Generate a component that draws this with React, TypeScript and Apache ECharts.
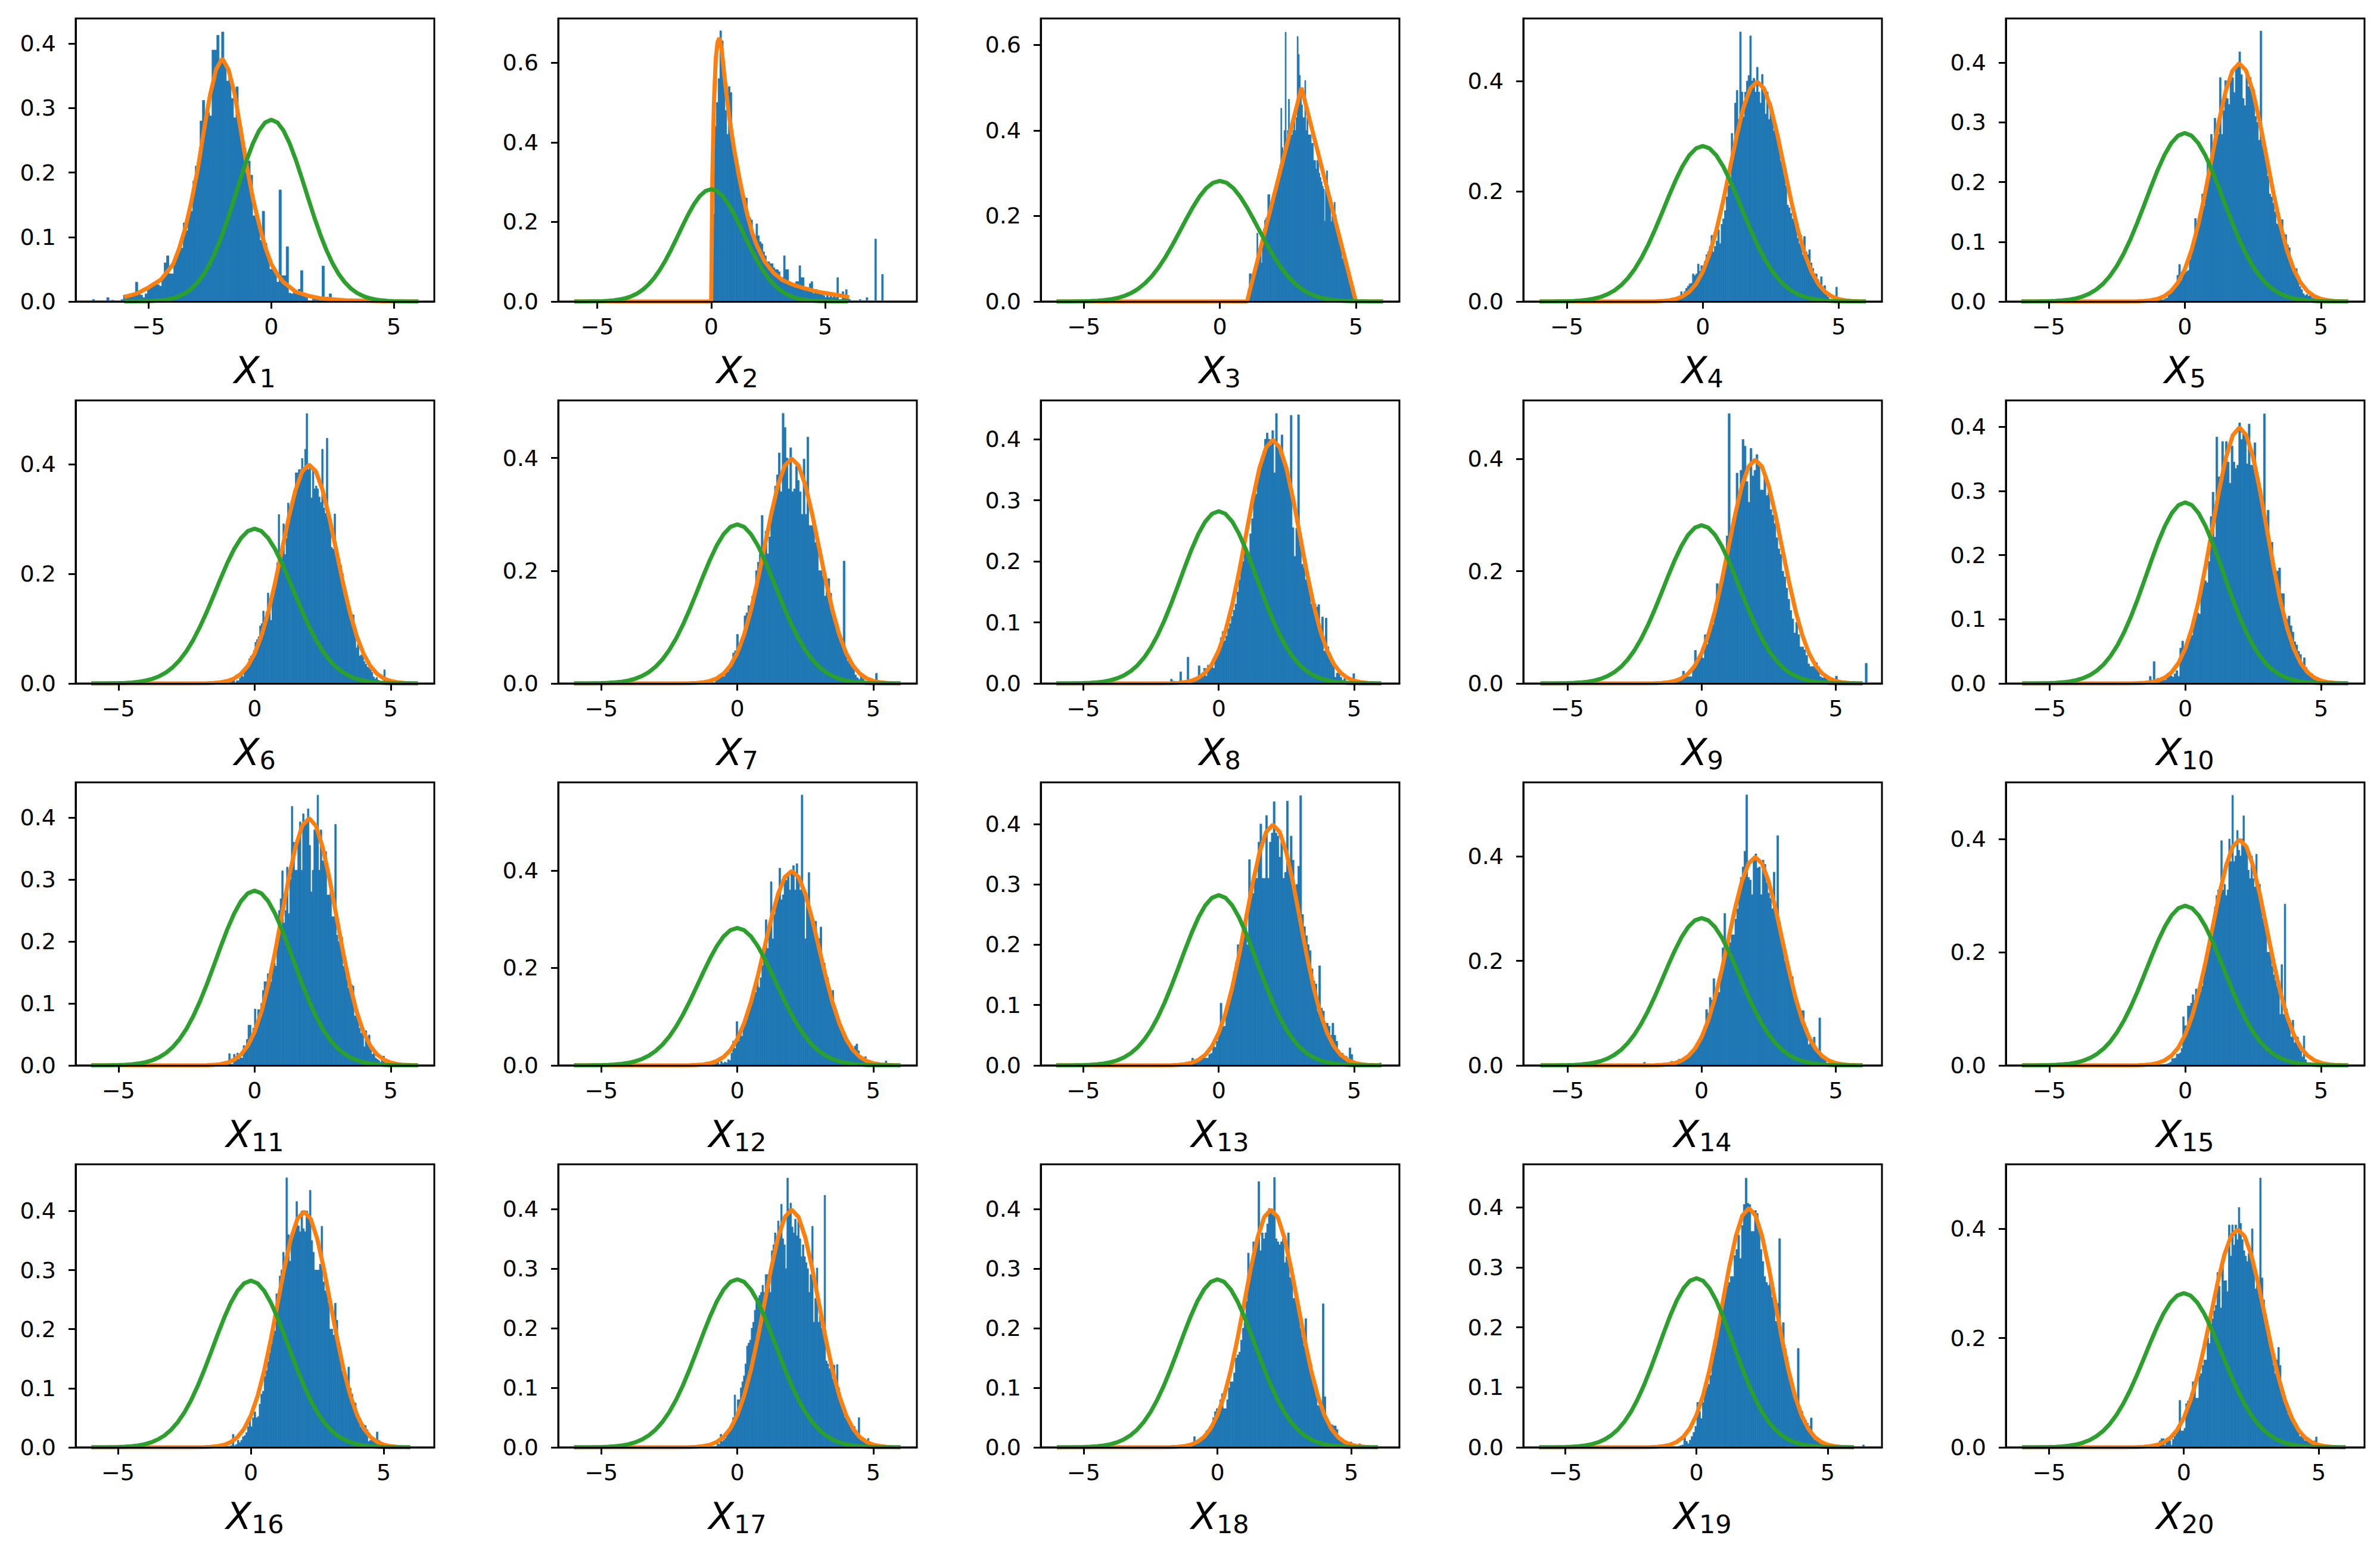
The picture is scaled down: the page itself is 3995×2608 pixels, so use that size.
import { useEffect, useRef } from "react";
import * as echarts from "echarts";

// histogram heights, 100 bins per panel
const hist1 = [
  0.003, 0, 0, 0, 0, 0, 0.006, 0, 0.002, 0,
  0, 0, 0.003, 0.01, 0.008, 0.009, 0.008, 0.012, 0.03, 0.012,
  0.01, 0.006, 0.012, 0.018, 0.024, 0.028, 0.028, 0.026, 0.024, 0.037,
  0.06, 0.071, 0.043, 0.043, 0.065, 0.07, 0.078, 0.083, 0.122, 0.11,
  0.137, 0.14, 0.187, 0.21, 0.21, 0.28, 0.312, 0.288, 0.293, 0.288,
  0.39, 0.39, 0.413, 0.37, 0.418, 0.37, 0.342, 0.355, 0.315, 0.285,
  0.333, 0.272, 0.25, 0.225, 0.2, 0.218, 0.196, 0.133, 0.13, 0.125,
  0.095, 0.14, 0.09, 0.068, 0.05, 0.05, 0.048, 0.03, 0.173, 0.04,
  0.04, 0.085, 0.013, 0.012, 0.016, 0.012, 0.019, 0.048, 0.011, 0.006,
  0, 0, 0.004, 0.004, 0.004, 0, 0.055, 0.004, 0, 0.012,
];
const hist2 = [
  0.03, 0.22, 0.44, 0.5, 0.56, 0.68, 0.655, 0.585, 0.48, 0.42,
  0.54, 0.525, 0.42, 0.39, 0.35, 0.335, 0.32, 0.29, 0.265, 0.23,
  0.26, 0.22, 0.21, 0.205, 0.155, 0.15, 0.195, 0.165, 0.15, 0.145,
  0.125, 0.115, 0.1, 0.1, 0.095, 0.095, 0.085, 0.08, 0.08, 0.075,
  0.06, 0.06, 0.115, 0.08, 0.08, 0.05, 0.045, 0.04, 0.035, 0.05,
  0.05, 0.09, 0.06, 0.06, 0.035, 0.03, 0.035, 0.045, 0.05, 0.02,
  0.03, 0.03, 0.02, 0.02, 0.02, 0.015, 0.01, 0.025, 0.01, 0.015,
  0.01, 0.02, 0.01, 0.06, 0.005, 0.005, 0.025, 0.01, 0.03, 0.01,
  0.005, 0, 0, 0, 0, 0, 0.005, 0, 0.002, 0,
  0.01, 0, 0, 0, 0, 0.157, 0, 0, 0, 0.068,
];
const hist3 = [
  0, 0.03, 0.065, 0.065, 0.04, 0.045, 0.05, 0.07, 0.09, 0.16,
  0.12, 0.125, 0.13, 0.09, 0.14, 0.17, 0.19, 0.195, 0.19, 0.25,
  0.25, 0.21, 0.215, 0.22, 0.25, 0.25, 0.27, 0.28, 0.28, 0.31,
  0.32, 0.452, 0.36, 0.35, 0.4, 0.63, 0.35, 0.4, 0.473, 0.39,
  0.39, 0.39, 0.4, 0.43, 0.4, 0.43, 0.62, 0.578, 0.529, 0.5,
  0.46, 0.43, 0.43, 0.517, 0.4, 0.43, 0.39, 0.39, 0.39, 0.37,
  0.37, 0.33, 0.33, 0.31, 0.33, 0.333, 0.3, 0.29, 0.28, 0.27,
  0.263, 0.188, 0.27, 0.306, 0.27, 0.24, 0.22, 0.187, 0.2, 0.21,
  0.232, 0.203, 0.17, 0.16, 0.15, 0.14, 0.13, 0.1, 0.11, 0.09,
  0.09, 0.08, 0.07, 0.06, 0.04, 0.035, 0.03, 0.02, 0.01, 0.003,
];
const hist4 = [
  0.002, 0, 0.002, 0.001, 0.003, 0.003, 0.004, 0.018, 0.01, 0.018,
  0.024, 0.028, 0.032, 0.033, 0.05, 0.047, 0.05, 0.068, 0.055, 0.065,
  0.064, 0.073, 0.085, 0.09, 0.1, 0.12, 0.09, 0.1, 0.11, 0.13,
  0.105, 0.14, 0.15, 0.165, 0.19, 0.21, 0.22, 0.305, 0.285, 0.36,
  0.383, 0.33, 0.489, 0.38, 0.335, 0.38, 0.4, 0.41, 0.482, 0.4,
  0.405, 0.38, 0.425, 0.38, 0.36, 0.412, 0.385, 0.34, 0.38, 0.33,
  0.36, 0.33, 0.31, 0.31, 0.29, 0.29, 0.255, 0.25, 0.23, 0.21,
  0.175, 0.17, 0.16, 0.15, 0.145, 0.14, 0.115, 0.105, 0.12, 0.085,
  0.118, 0.09, 0.085, 0.094, 0.07, 0.06, 0.05, 0.05, 0.04, 0.03,
  0.045, 0.02, 0.029, 0.012, 0.008, 0.004, 0.004, 0.003, 0, 0.026,
];
const hist5 = [
  0.003, 0.001, 0.003, 0.002, 0.003, 0.003, 0.003, 0.005, 0.006, 0.012,
  0.015, 0.022, 0.024, 0.03, 0.044, 0.062, 0.035, 0.05, 0.047, 0.05,
  0.052, 0.07, 0.09, 0.1, 0.139, 0.12, 0.125, 0.15, 0.18, 0.16,
  0.19, 0.235, 0.22, 0.28, 0.25, 0.307, 0.27, 0.28, 0.375, 0.28,
  0.32, 0.37, 0.34, 0.33, 0.37, 0.375, 0.35, 0.39, 0.4, 0.418,
  0.38, 0.34, 0.328, 0.385, 0.36, 0.375, 0.36, 0.355, 0.31, 0.3,
  0.27, 0.453, 0.26, 0.25, 0.24, 0.21, 0.18, 0.175, 0.165, 0.15,
  0.13, 0.128, 0.13, 0.137, 0.105, 0.112, 0.095, 0.09, 0.07, 0.06,
  0.055, 0.055, 0.035, 0.025, 0.02, 0.013, 0.01, 0.012, 0.009, 0.011,
  0.006, 0.005, 0.004, 0.003, 0.002, 0.003, 0.002, 0.001, 0, 0.002,
];
const hist6 = [
  0.002, 0.004, 0.005, 0.001, 0.005, 0.005, 0.01, 0.02, 0.012, 0.025,
  0.03, 0.032, 0.045, 0.05, 0.05, 0.06, 0.075, 0.08, 0.085, 0.105,
  0.109, 0.132, 0.115, 0.13, 0.165, 0.15, 0.115, 0.165, 0.18, 0.2,
  0.22, 0.308, 0.22, 0.235, 0.291, 0.235, 0.265, 0.329, 0.3, 0.32,
  0.33, 0.35, 0.384, 0.384, 0.39, 0.39, 0.41, 0.385, 0.427, 0.492,
  0.39, 0.4, 0.338, 0.39, 0.355, 0.36, 0.355, 0.34, 0.33, 0.427,
  0.32, 0.31, 0.447, 0.3, 0.28, 0.248, 0.245, 0.309, 0.24, 0.215,
  0.2, 0.215, 0.2, 0.16, 0.16, 0.15, 0.14, 0.125, 0.125, 0.125,
  0.09, 0.065, 0.071, 0.05, 0.052, 0.064, 0.04, 0.035, 0.03, 0.028,
  0.025, 0.02, 0.012, 0.008, 0.011, 0.006, 0.004, 0.003, 0.004, 0.025,
];
const hist7 = [
  0.002, 0, 0, 0, 0, 0, 0, 0, 0, 0,
  0, 0.001, 0, 0, 0, 0.005, 0.007, 0.012, 0.018, 0.012,
  0.02, 0.02, 0.03, 0.04, 0.054, 0.058, 0.087, 0.07, 0.065, 0.08,
  0.12, 0.125, 0.138, 0.13, 0.155, 0.165, 0.2, 0.215, 0.23, 0.298,
  0.225, 0.27, 0.23, 0.26, 0.3, 0.32, 0.35, 0.37, 0.409, 0.34,
  0.479, 0.454, 0.4, 0.345, 0.418, 0.34, 0.345, 0.385, 0.36, 0.34,
  0.3, 0.398, 0.3, 0.437, 0.28, 0.28, 0.285, 0.25, 0.255, 0.2,
  0.2, 0.19, 0.155, 0.17, 0.186, 0.16, 0.125, 0.12, 0.11, 0.09,
  0.085, 0.08, 0.217, 0.05, 0.04, 0.035, 0.035, 0.028, 0.015, 0.01,
  0.007, 0.015, 0.008, 0.004, 0.002, 0.002, 0.002, 0.001, 0, 0.018,
];
const hist8 = [
  0.007, 0.004, 0, 0, 0, 0.019, 0, 0, 0.002, 0.043,
  0, 0.002, 0.002, 0.003, 0.006, 0.029, 0.012, 0.014, 0.025, 0.012,
  0.03, 0.026, 0.03, 0.025, 0.045, 0.05, 0.06, 0.075, 0.085, 0.07,
  0.078, 0.09, 0.098, 0.11, 0.12, 0.13, 0.15, 0.17, 0.19, 0.2,
  0.215, 0.22, 0.2, 0.245, 0.27, 0.31, 0.31, 0.34, 0.355, 0.37,
  0.38, 0.4, 0.41, 0.4, 0.39, 0.414, 0.345, 0.442, 0.385, 0.375,
  0.407, 0.36, 0.36, 0.35, 0.34, 0.439, 0.255, 0.208, 0.254, 0.44,
  0.225, 0.195, 0.19, 0.17, 0.165, 0.15, 0.13, 0.129, 0.13, 0.125,
  0.129, 0.09, 0.109, 0.053, 0.107, 0.06, 0.05, 0.04, 0.03, 0.01,
  0.017, 0.019, 0.01, 0.005, 0.008, 0.004, 0.003, 0.002, 0, 0.016,
];
const hist9 = [
  0.003, 0.002, 0.002, 0.001, 0.004, 0.006, 0.005, 0.022, 0.015, 0.012,
  0.012, 0.012, 0.025, 0.059, 0.045, 0.047, 0.05, 0.045, 0.087, 0.07,
  0.09, 0.1, 0.105, 0.14, 0.178, 0.16, 0.17, 0.2, 0.215, 0.263,
  0.481, 0.27, 0.293, 0.29, 0.375, 0.33, 0.38, 0.435, 0.423, 0.36,
  0.323, 0.419, 0.37, 0.38, 0.408, 0.39, 0.345, 0.345, 0.37, 0.335,
  0.34, 0.31, 0.3, 0.285, 0.26, 0.24, 0.23, 0.2, 0.19, 0.17,
  0.15, 0.13, 0.115, 0.09, 0.109, 0.087, 0.065, 0.065, 0.06, 0.05,
  0.035, 0.03, 0.03, 0.03, 0.037, 0.03, 0.012, 0.01, 0.01, 0.008,
  0.005, 0.004, 0.008, 0.002, 0.013, 0, 0.002, 0.001, 0, 0,
  0, 0, 0, 0, 0, 0, 0, 0, 0, 0.036,
];
const hist10 = [
  0.011, 0, 0.034, 0, 0.008, 0.004, 0.004, 0.005, 0.005, 0.01,
  0.012, 0.012, 0.01, 0.015, 0.02, 0.011, 0.055, 0.066, 0.048, 0.06,
  0.065, 0.07, 0.075, 0.1, 0.105, 0.11, 0.108, 0.14, 0.155, 0.16,
  0.157, 0.19, 0.26, 0.298, 0.228, 0.384, 0.322, 0.322, 0.377, 0.35,
  0.377, 0.345, 0.312, 0.37, 0.345, 0.335, 0.34, 0.406, 0.38, 0.39,
  0.39, 0.342, 0.404, 0.34, 0.34, 0.375, 0.33, 0.3, 0.285, 0.27,
  0.42, 0.245, 0.27, 0.22, 0.22, 0.18, 0.155, 0.175, 0.18, 0.14,
  0.14, 0.1, 0.1, 0.105, 0.09, 0.08, 0.065, 0.06, 0.05, 0.045,
  0.03, 0.04, 0.025, 0.02, 0.012, 0.015, 0.01, 0.008, 0.006, 0.004,
  0.003, 0.002, 0.001, 0.001, 0.001, 0.002, 0.001, 0.001, 0, 0.003,
];
const hist11 = [
  0.004, 0.002, 0.019, 0.002, 0.002, 0.018, 0.008, 0.02, 0.01, 0.012,
  0.012, 0.032, 0.03, 0.042, 0.065, 0.065, 0.04, 0.06, 0.091, 0.06,
  0.09, 0.09, 0.1, 0.121, 0.135, 0.135, 0.148, 0.135, 0.135, 0.16,
  0.165, 0.16, 0.2, 0.25, 0.269, 0.314, 0.23, 0.25, 0.32, 0.245,
  0.3, 0.418, 0.36, 0.315, 0.315, 0.37, 0.393, 0.315, 0.406, 0.395,
  0.39, 0.414, 0.355, 0.28, 0.315, 0.38, 0.38, 0.436, 0.315, 0.38,
  0.33, 0.33, 0.345, 0.275, 0.275, 0.28, 0.24, 0.24, 0.389, 0.21,
  0.2, 0.2, 0.207, 0.16, 0.16, 0.14, 0.125, 0.128, 0.13, 0.128,
  0.08, 0.08, 0.075, 0.06, 0.052, 0.056, 0.03, 0.056, 0.04, 0.049,
  0.025, 0.018, 0.02, 0.012, 0.01, 0.008, 0.005, 0.01, 0.015, 0.004,
];
const hist12 = [
  0.004, 0.006, 0.002, 0.008, 0.004, 0.007, 0.005, 0.012, 0.01, 0.025,
  0.05, 0.035, 0.09, 0.05, 0.065, 0.06, 0.08, 0.09, 0.095, 0.12,
  0.125, 0.13, 0.145, 0.15, 0.181, 0.16, 0.18, 0.205, 0.24, 0.299,
  0.24, 0.28, 0.377, 0.26, 0.31, 0.33, 0.34, 0.405, 0.34, 0.35,
  0.39, 0.38, 0.39, 0.36, 0.4, 0.41, 0.36, 0.414, 0.38, 0.36,
  0.555, 0.36, 0.26, 0.33, 0.396, 0.3, 0.3, 0.28, 0.296, 0.25,
  0.26, 0.284, 0.2, 0.21, 0.18, 0.18, 0.16, 0.13, 0.154, 0.12,
  0.113, 0.09, 0.08, 0.08, 0.07, 0.065, 0.055, 0.045, 0.04, 0.04,
  0.03, 0.04, 0.044, 0.03, 0.015, 0.015, 0.012, 0.018, 0.012, 0.01,
  0.006, 0.006, 0.005, 0.004, 0.003, 0.002, 0.002, 0.001, 0, 0.009,
];
const hist13 = [
  0.012, 0.005, 0.008, 0.006, 0.012, 0.014, 0.015, 0.012, 0.012, 0.018,
  0.02, 0.032, 0.03, 0.04, 0.055, 0.103, 0.065, 0.065, 0.09, 0.11,
  0.11, 0.125, 0.155, 0.17, 0.2, 0.2, 0.2, 0.22, 0.25, 0.2,
  0.341, 0.285, 0.285, 0.31, 0.31, 0.37, 0.4, 0.31, 0.31, 0.414,
  0.31, 0.37, 0.385, 0.437, 0.385, 0.38, 0.345, 0.37, 0.31, 0.32,
  0.438, 0.32, 0.38, 0.34, 0.29, 0.3, 0.33, 0.447, 0.25, 0.23,
  0.215, 0.2, 0.19, 0.16, 0.14, 0.135, 0.09, 0.165, 0.095, 0.09,
  0.07, 0.07, 0.065, 0.05, 0.07, 0.05, 0.04, 0.025, 0.017, 0.02,
  0.012, 0.015, 0.01, 0.029, 0.018, 0.008, 0.006, 0.005, 0.004, 0.003,
  0.003, 0.002, 0.002, 0.001, 0, 0.001, 0.001, 0, 0, 0.004,
];
const hist14 = [
  0.006, 0, 0, 0, 0, 0, 0, 0, 0, 0,
  0, 0, 0, 0, 0.002, 0.008, 0.005, 0.006, 0.008, 0.012,
  0.01, 0.012, 0.012, 0.015, 0.02, 0.02, 0.025, 0.03, 0.035, 0.035,
  0.045, 0.055, 0.06, 0.075, 0.107, 0.1, 0.13, 0.125, 0.166, 0.13,
  0.14, 0.14, 0.18, 0.225, 0.291, 0.24, 0.225, 0.235, 0.25, 0.25,
  0.28, 0.3, 0.33, 0.36, 0.38, 0.41, 0.518, 0.36, 0.355, 0.327,
  0.4, 0.405, 0.378, 0.38, 0.327, 0.393, 0.385, 0.35, 0.33, 0.32,
  0.3, 0.37, 0.29, 0.44, 0.275, 0.25, 0.24, 0.2, 0.2, 0.19,
  0.163, 0.17, 0.13, 0.13, 0.11, 0.1, 0.105, 0.105, 0.075, 0.07,
  0.04, 0.051, 0.04, 0.054, 0.035, 0.03, 0.091, 0.015, 0.012, 0.01,
];
const hist15 = [
  0.002, 0, 0, 0, 0, 0, 0, 0, 0.001, 0.002,
  0.002, 0.003, 0.004, 0.006, 0.012, 0.012, 0.013, 0.02, 0.02, 0.022,
  0.03, 0.086, 0.07, 0.07, 0.105, 0.105, 0.11, 0.125, 0.115, 0.135,
  0.12, 0.14, 0.13, 0.14, 0.17, 0.18, 0.2, 0.2, 0.23, 0.24,
  0.25, 0.28, 0.3, 0.31, 0.315, 0.397, 0.31, 0.32, 0.3, 0.31,
  0.4, 0.36, 0.477, 0.36, 0.37, 0.415, 0.38, 0.37, 0.4, 0.441,
  0.39, 0.38, 0.345, 0.33, 0.37, 0.33, 0.315, 0.373, 0.315, 0.32,
  0.3, 0.26, 0.25, 0.24, 0.2, 0.2, 0.195, 0.175, 0.16, 0.15,
  0.14, 0.14, 0.09, 0.178, 0.09, 0.285, 0.1, 0.08, 0.08, 0.05,
  0.08, 0.04, 0.05, 0.05, 0.035, 0.025, 0.015, 0.052, 0.01, 0.005,
];
const hist16 = [
  0.002, 0.002, 0.002, 0.003, 0.022, 0.003, 0.005, 0.012, 0.008, 0.012,
  0.018, 0.02, 0.025, 0.035, 0.052, 0.035, 0.05, 0.06, 0.05, 0.052,
  0.073, 0.09, 0.095, 0.12, 0.13, 0.145, 0.16, 0.175, 0.19, 0.197,
  0.26, 0.245, 0.29, 0.3, 0.33, 0.315, 0.456, 0.36, 0.315, 0.35,
  0.36, 0.37, 0.416, 0.375, 0.365, 0.4, 0.37, 0.365, 0.4, 0.39,
  0.435, 0.35, 0.33, 0.3, 0.3, 0.3, 0.31, 0.374, 0.28, 0.265,
  0.26, 0.245, 0.2, 0.2, 0.19, 0.244, 0.215, 0.17, 0.17, 0.13,
  0.135, 0.115, 0.1, 0.136, 0.1, 0.09, 0.075, 0.075, 0.055, 0.042,
  0.035, 0.035, 0.038, 0.037, 0.03, 0.01, 0.012, 0.015, 0.012, 0.012,
  0.026, 0.012, 0.01, 0.005, 0.004, 0.004, 0.003, 0.002, 0.002, 0.004,
];
const hist17 = [
  0.002, 0.006, 0.005, 0.022, 0.01, 0.012, 0.015, 0.025, 0.025, 0.035,
  0.035, 0.05, 0.088, 0.045, 0.08, 0.08, 0.1, 0.11, 0.12, 0.14,
  0.17, 0.175, 0.18, 0.2, 0.21, 0.23, 0.25, 0.25, 0.255, 0.26,
  0.272, 0.26, 0.29, 0.29, 0.29, 0.26, 0.33, 0.34, 0.36, 0.34,
  0.38, 0.36, 0.408, 0.35, 0.34, 0.3, 0.452, 0.4, 0.41, 0.37,
  0.36, 0.383, 0.355, 0.38, 0.35, 0.32, 0.34, 0.32, 0.31, 0.3,
  0.26, 0.29, 0.371, 0.21, 0.25, 0.301, 0.21, 0.22, 0.2, 0.19,
  0.423, 0.145, 0.14, 0.132, 0.13, 0.115, 0.138, 0.115, 0.139, 0.1,
  0.085, 0.07, 0.06, 0.05, 0.05, 0.05, 0.04, 0.04, 0.035, 0.035,
  0.02, 0.02, 0.05, 0.012, 0.012, 0.015, 0.012, 0.008, 0.015, 0.004,
];
const hist18 = [
  0.002, 0.003, 0.004, 0.005, 0.018, 0.008, 0.012, 0.012, 0.015, 0.015,
  0.022, 0.028, 0.03, 0.035, 0.038, 0.05, 0.06, 0.065, 0.06, 0.08,
  0.09, 0.065, 0.065, 0.08, 0.1, 0.11, 0.11, 0.125, 0.15, 0.155,
  0.16, 0.18, 0.2, 0.21, 0.245, 0.326, 0.3, 0.3, 0.345, 0.34,
  0.345, 0.446, 0.33, 0.36, 0.35, 0.36, 0.375, 0.401, 0.4, 0.39,
  0.453, 0.35, 0.345, 0.34, 0.345, 0.35, 0.31, 0.32, 0.36, 0.285,
  0.285, 0.25, 0.25, 0.24, 0.241, 0.2, 0.185, 0.17, 0.216, 0.15,
  0.142, 0.14, 0.12, 0.11, 0.105, 0.07, 0.07, 0.065, 0.241, 0.085,
  0.05, 0.04, 0.035, 0.038, 0.036, 0.036, 0.03, 0.012, 0.01, 0.01,
  0.008, 0.007, 0.007, 0.005, 0.009, 0.005, 0.004, 0.003, 0.002, 0.006,
];
const hist19 = [
  0.002, 0.003, 0.004, 0.016, 0.01, 0.006, 0.012, 0.018, 0.025, 0.035,
  0.075, 0.06, 0.048, 0.075, 0.107, 0.1, 0.105, 0.12, 0.15, 0.16,
  0.17, 0.19, 0.205, 0.22, 0.25, 0.26, 0.27, 0.275, 0.285, 0.285,
  0.32, 0.33, 0.354, 0.315, 0.37, 0.405, 0.449, 0.407, 0.405, 0.36,
  0.36, 0.395, 0.39, 0.36, 0.33, 0.31, 0.285, 0.275, 0.27, 0.28,
  0.25, 0.26, 0.21, 0.24, 0.348, 0.19, 0.208, 0.165, 0.15, 0.13,
  0.12, 0.105, 0.095, 0.085, 0.165, 0.065, 0.06, 0.05, 0.045, 0.04,
  0.035, 0.049, 0.02, 0.012, 0.015, 0.012, 0.01, 0.008, 0.006, 0.004,
  0.004, 0.003, 0.003, 0.002, 0.002, 0.001, 0.001, 0.001, 0.001, 0,
  0, 0, 0, 0, 0, 0, 0, 0, 0, 0.004,
];
const hist20 = [
  0.012, 0.016, 0.016, 0.004, 0.012, 0.012, 0.012, 0.004, 0.015, 0.02,
  0.025, 0.03, 0.086, 0.03, 0.03, 0.035, 0.08, 0.085, 0.09, 0.1,
  0.12, 0.12, 0.09, 0.09, 0.13, 0.135, 0.15, 0.16, 0.16, 0.2,
  0.19, 0.225, 0.235, 0.25, 0.26, 0.32, 0.295, 0.255, 0.335, 0.305,
  0.305, 0.285, 0.407, 0.35, 0.407, 0.37, 0.407, 0.38, 0.439, 0.41,
  0.38, 0.36, 0.35, 0.34, 0.355, 0.36, 0.4, 0.325, 0.29, 0.31,
  0.285, 0.493, 0.31, 0.27, 0.245, 0.23, 0.21, 0.19, 0.18, 0.15,
  0.135, 0.16, 0.183, 0.15, 0.1, 0.09, 0.085, 0.07, 0.06, 0.058,
  0.06, 0.05, 0.04, 0.035, 0.03, 0.02, 0.02, 0.017, 0.012, 0.015,
  0.012, 0.008, 0.01, 0.008, 0.012, 0.019, 0.005, 0.002, 0.001, 0.004,
];
const histograms = [
  hist1, hist2, hist3, hist4, hist5, hist6, hist7, hist8, hist9, hist10,
  hist11, hist12, hist13, hist14, hist15, hist16, hist17, hist18, hist19, hist20,
];

const binStarts = [
  -7.3, 0, 1, -1.25, -1.2, -0.9, -1.85, -1.78, -1.23, -1.32,
  -1.07, -0.8, -1.0, -2.16, -1.32, -0.95, -0.8, -1.15, -0.7, -0.91,
];
const binWidths = [
  0.0976, 0.0755, 0.04, 0.062, 0.065, 0.057, 0.07, 0.068, 0.074, 0.07,
  0.059, 0.063, 0.07, 0.068, 0.0584, 0.063, 0.057, 0.065, 0.071, 0.061,
];

const xMins = [
  -7.98, -6.71, -6.58, -6.6, -6.57, -6.57, -6.58, -6.57, -6.64, -6.6,
  -6.57, -6.58, -6.57, -6.64, -6.6, -6.59, -6.58, -6.6, -6.6, -6.6,
];
const xMaxes = [
  6.65, 9.02, 6.6, 6.59, 6.6, 6.6, 6.6, 6.67, 6.72, 6.6,
  6.6, 6.6, 6.67, 6.72, 6.6, 6.9, 6.6, 6.8, 7.07, 6.7,
];
const yMaxes = [
  0.439, 0.711, 0.662, 0.5135, 0.474, 0.516, 0.502, 0.4635, 0.5046, 0.441,
  0.4567, 0.581, 0.469, 0.542, 0.5, 0.479, 0.475, 0.475, 0.472, 0.518,
];
const yTicksTenth = [0, 0.1, 0.2, 0.3, 0.4];
const yTicksFifth = [0, 0.2, 0.4];
const yTicksTall = [0, 0.2, 0.4, 0.6];
const yTicks = [
  yTicksTenth, yTicksTall, yTicksTall, yTicksFifth, yTicksTenth,
  yTicksFifth, yTicksFifth, yTicksTenth, yTicksFifth, yTicksTenth,
  yTicksTenth, yTicksFifth, yTicksTenth, yTicksFifth, yTicksFifth,
  yTicksTenth, yTicksTenth, yTicksTenth, yTicksTenth, yTicksFifth,
];
const xTicks = [-5, 0, 5];

// curves, sampled every 0.25 from -6 to 6
const curveX = [
  -6, -5.75, -5.5, -5.25, -5, -4.75, -4.5, -4.25, -4, -3.75, -3.5, -3.25, -3, -2.75, -2.5, -2.25, -2,
  -1.75, -1.5, -1.25, -1, -0.75, -0.5, -0.25, 0, 0.25, 0.5, 0.75, 1, 1.25, 1.5, 1.75, 2,
  2.25, 2.5, 2.75, 3, 3.25, 3.5, 3.75, 4, 4.25, 4.5, 4.75, 5, 5.25, 5.5, 5.75, 6,
];
const greenY = [
  0, 0.0001, 0.0001, 0.0003, 0.0005, 0.001, 0.0018, 0.0031, 0.0052, 0.0084, 0.0132, 0.0201, 0.0297, 0.0426, 0.0591, 0.0796, 0.1038,
  0.1312, 0.1607, 0.1909, 0.2197, 0.2451, 0.265, 0.2777, 0.2821, 0.2777, 0.265, 0.2451, 0.2197, 0.1909, 0.1607, 0.1312, 0.1038,
  0.0796, 0.0591, 0.0426, 0.0297, 0.0201, 0.0132, 0.0084, 0.0052, 0.0031, 0.0018, 0.001, 0.0005, 0.0003, 0.0001, 0.0001, 0,
];
const orangeY = [
  0, 0, 0, 0, 0, 0, 0, 0, 0, 0, 0, 0, 0, 0, 0, 0, 0.0001,
  0.0004, 0.0009, 0.002, 0.0044, 0.0091, 0.0175, 0.0317, 0.054, 0.0863, 0.1295, 0.1826, 0.242, 0.3011, 0.3521, 0.3867, 0.3989,
  0.3867, 0.3521, 0.3011, 0.242, 0.1826, 0.1295, 0.0863, 0.054, 0.0317, 0.0175, 0.0091, 0.0044, 0.002, 0.0009, 0.0004, 0.0001,
];
const orange1X = [
  -6, -5.5, -5, -4.5, -4, -3.75, -3.5, -3.25, -3, -2.75, -2.5, -2.25, -2, -1.75, -1.5, -1.25, -1,
  -0.75, -0.5, -0.25, 0, 0.25, 0.5, 1, 1.5, 2, 3, 4, 5, 6,
];
const orange1Y = [
  0.007, 0.012, 0.022, 0.034, 0.058, 0.083, 0.115, 0.157, 0.205, 0.265, 0.32, 0.36, 0.377, 0.36, 0.323, 0.267, 0.21,
  0.16, 0.12, 0.085, 0.058, 0.042, 0.03, 0.015, 0.009, 0.005, 0.002, 0.001, 0, 0,
];
const orange2X = [
  -6, -0.02, 0, 0.05, 0.12, 0.2, 0.28, 0.36, 0.45, 0.6, 0.8, 1, 1.2, 1.4, 1.6, 1.8, 2, 2.35, 2.75, 3.1, 3.55, 4.1, 4.7, 5.35, 6.05,
];
const orange2Y = [
  0, 0, 0, 0.31, 0.5, 0.61, 0.652, 0.662, 0.637, 0.555, 0.46, 0.384, 0.32, 0.264, 0.214, 0.172, 0.141, 0.1, 0.071, 0.055, 0.043, 0.033, 0.024, 0.018, 0.011,
];
const orange3X = [-6, 1, 3, 5, 6];
const orange3Y = [0, 0, 0.5, 0, 0];

const BLUE = "#1f77b4";
const ORANGE = "#ff7f0e";
const GREEN = "#2ca02c";
const FONT = "DejaVu Sans";

const zip = (xs: number[], ys: number[]) => xs.map((x, i) => [x, ys[i]]);

const orangeFor = (p: number) => {
  if (p === 0) return zip(orange1X, orange1Y);
  if (p === 1) return zip(orange2X, orange2Y);
  if (p === 2) return zip(orange3X, orange3Y);
  return zip(curveX, orangeY);
};

const buildOption = (): echarts.EChartsOption => {
  const grid: any[] = [];
  const xAxis: any[] = [];
  const yAxis: any[] = [];
  const series: any[] = [];

  histograms.forEach((heights, p) => {
    const col = p % 5;
    const row = Math.floor(p / 5);
    grid.push({
      left: 127 + 810 * col,
      top: 31 + 641 * row,
      width: 602,
      height: 475,
      show: true,
      backgroundColor: "#fff",
      borderColor: "#000",
      borderWidth: 3,
    });
    xAxis.push({
      gridIndex: p,
      type: "value",
      min: xMins[p],
      max: xMaxes[p],
      z: 10,
      splitLine: { show: false },
      axisLine: { show: true, onZero: false, lineStyle: { color: "#000", width: 3 } },
      axisTick: { show: true, length: 12, customValues: xTicks, lineStyle: { color: "#000", width: 3 } },
      axisLabel: {
        customValues: xTicks,
        margin: 23,
        color: "#000",
        fontFamily: FONT,
        fontSize: 38,
        formatter: (v: number) => String(v).replace("-", "\u2212"),
      },
      name: `{x|X}{s|${p + 1}}`,
      nameLocation: "middle",
      nameGap: 81,
      nameTextStyle: {
        rich: {
          x: { fontFamily: FONT, fontStyle: "italic", fontSize: 62, color: "#000" },
          s: { fontFamily: FONT, fontSize: 43, color: "#000", padding: [26, 0, 0, 0] },
        },
      },
    });
    yAxis.push({
      gridIndex: p,
      type: "value",
      min: 0,
      max: yMaxes[p],
      splitLine: { show: false },
      axisLine: { show: true, onZero: false, lineStyle: { color: "#000", width: 3 } },
      axisTick: { show: true, length: 12, customValues: yTicks[p], lineStyle: { color: "#000", width: 3 } },
      axisLabel: {
        customValues: yTicks[p],
        margin: 33,
        color: "#000",
        fontFamily: FONT,
        fontSize: 38,
        formatter: (v: number) => v.toFixed(1),
      },
    });

    const bars = heights
      .map((h, i) => [binStarts[p] + i * binWidths[p], binStarts[p] + (i + 1) * binWidths[p], h])
      .filter((b) => b[2] > 0);
    series.push({
      type: "custom",
      xAxisIndex: p,
      yAxisIndex: p,
      silent: true,
      clip: true,
      z: 1,
      data: bars,
      encode: { x: [0, 1], y: 2 },
      renderItem: (_: any, api: any) => {
        const a = api.coord([api.value(0), 0]);
        const b = api.coord([api.value(1), api.value(2)]);
        return {
          type: "rect",
          shape: { x: a[0], y: b[1], width: b[0] - a[0], height: a[1] - b[1] },
          style: { fill: BLUE, stroke: BLUE, lineWidth: 0.8 },
        };
      },
    });
    series.push({
      type: "line",
      xAxisIndex: p,
      yAxisIndex: p,
      silent: true,
      showSymbol: false,
      z: 2,
      data: orangeFor(p),
      lineStyle: { color: ORANGE, width: 6.9 },
    });
    series.push({
      type: "line",
      xAxisIndex: p,
      yAxisIndex: p,
      silent: true,
      showSymbol: false,
      z: 3,
      data: zip(curveX, greenY),
      lineStyle: { color: GREEN, width: 6.9 },
    });
  });

  return { animation: false, backgroundColor: "#fff", grid, xAxis, yAxis, series };
};

export default function App() {
  const chartRef = useRef<HTMLDivElement>(null);

  useEffect(() => {
    document.body.style.margin = "0";
    const chart = echarts.init(chartRef.current!, undefined, { renderer: "svg" });
    chart.setOption(buildOption());
    return () => chart.dispose();
  }, []);

  return <div ref={chartRef} style={{ width: 3995, height: 2608 }} />;
}
